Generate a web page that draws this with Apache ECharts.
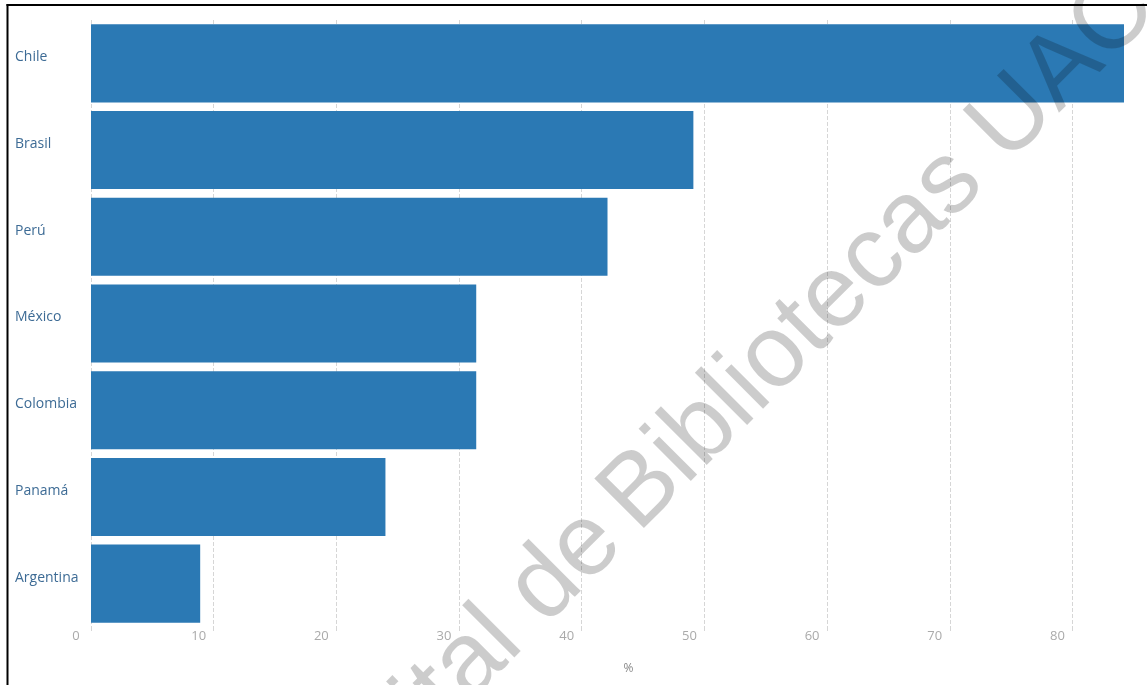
<!DOCTYPE html>
<html>
<head>
<meta charset="utf-8">
<title>Países (%)</title>
<script src="https://cdn.jsdelivr.net/npm/echarts@6/dist/echarts.min.js"></script>
<style>
  html, body { margin: 0; padding: 0; background: #fff; }
  #chart { width: 1147px; height: 685px; }
</style>
</head>
<body>
<div id="chart"></div>
<script>
  "use strict";

  // datos
  var countries = ['Chile', 'Brasil', 'Perú', 'México', 'Colombia', 'Panamá', 'Argentina'];
  var percents = [84.2, 49.1, 42.1, 31.4, 31.4, 24.0, 8.9];
  var axisMax = 84.2;

  var FONT = "'Open Sans', sans-serif"
    , BAR_COLOR = '#2b79b4'
    , GRID_COLOR = '#d6d6d6';

  var chart = echarts.init(document.getElementById('chart'), null, { renderer: 'canvas' });

  // marca de agua: dos trozos anclados en el inicio de "Bibliotecas"
  var wmAngle = Math.PI / 4
    , wmX = 618
    , wmY = 514
    , wmStyle = { font: "102px 'Liberation Sans', Arial, sans-serif", fill: 'rgba(0,0,0,0.2)', verticalAlign: 'middle' };

  var option = {
    backgroundColor: '#fff',
    animation: false,
    textStyle: { fontFamily: FONT },
    grid: { left: 91, right: 23, top: 20, bottom: 58, containLabel: false },
    xAxis: {
      type: 'value',
      min: 0,
      max: axisMax,
      interval: 10,
      name: '%',
      nameLocation: 'middle',
      nameGap: 36,
      nameTextStyle: { color: '#888', fontSize: 12, fontFamily: FONT, padding: [0, 0, 0, 42] },
      axisLine: { show: false },
      axisTick: { show: true, length: 6, lineStyle: { color: GRID_COLOR, type: 'dashed' } },
      splitLine: { show: true, showMaxLine: false, lineStyle: { color: GRID_COLOR, type: 'dashed', width: 1 } },
      axisLabel: {
        color: '#aaa',
        fontSize: 13,
        fontFamily: FONT,
        margin: 3,
        padding: [0, 30, 0, 0],
        showMaxLabel: false,
        formatter: function (v) { return v % 10 === 0 ? String(v) : ''; }
      }
    },
    yAxis: {
      type: 'category',
      inverse: true,
      data: countries,
      axisLine: { show: false },
      axisTick: { show: false },
      splitLine: { show: false },
      axisLabel: {
        align: 'left',
        verticalAlign: 'bottom',
        lineHeight: 12,
        margin: 76,
        color: '#3d6b95',
        fontSize: 14,
        fontFamily: FONT
      }
    },
    series: [{
      type: 'bar',
      data: percents,
      barCategoryGap: '10%',
      itemStyle: { color: BAR_COLOR },
      silent: true
    }],
    graphic: [
      // marco negro (solo se ven los lados izquierdo y superior)
      { type: 'line', z: 200, shape: { x1: 7.5, y1: 4, x2: 7.5, y2: 685 }, style: { stroke: '#000', lineWidth: 2 } },
      { type: 'line', z: 200, shape: { x1: 6.5, y1: 5, x2: 1147, y2: 5 }, style: { stroke: '#000', lineWidth: 2 } },
      {
        type: 'text', z: 150, x: wmX, y: wmY, rotation: wmAngle, silent: true,
        style: Object.assign({ text: 'Bibliotecas UAC', align: 'left' }, wmStyle)
      },
      {
        type: 'text', z: 150, x: wmX + 8, y: wmY - 8, rotation: wmAngle, silent: true,
        style: Object.assign({ text: 'Repositorio Digital de ', align: 'right' }, wmStyle)
      }
    ]
  };

  chart.setOption(option);
</script>
</body>
</html>
